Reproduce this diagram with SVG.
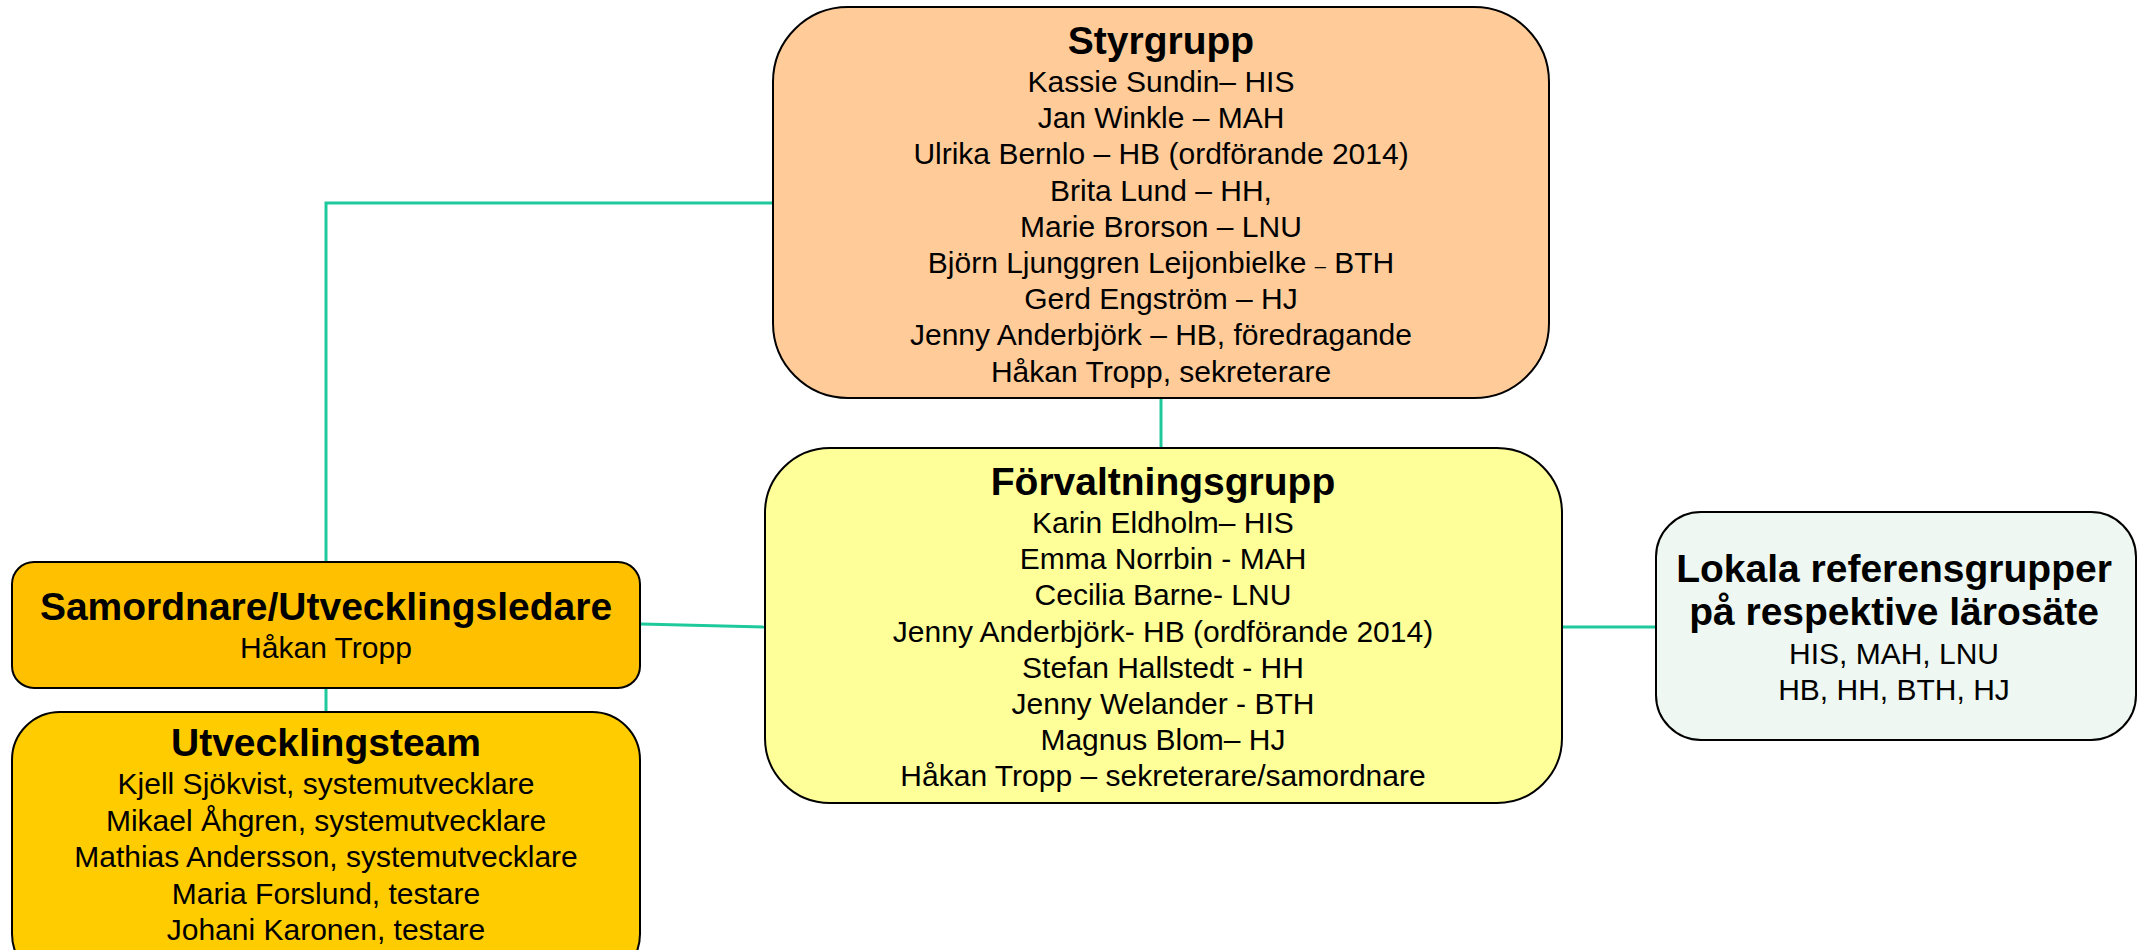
<svg xmlns="http://www.w3.org/2000/svg" width="2137" height="950" viewBox="0 0 2137 950">
<style>
.box{stroke:#000;stroke-width:2}
.t{font-family:"Liberation Sans",Arial,sans-serif;font-weight:bold;font-size:39px;fill:#000;text-anchor:middle}
.b{font-family:"Liberation Sans",Arial,sans-serif;font-size:30px;fill:#000;text-anchor:middle}
.c{fill:none;stroke:#1ec99b;stroke-width:3}
</style>
<rect width="2137" height="950" fill="#fff"/>
<g id="connectors">
<polyline class="c" points="773,203 326,203 326,561"/>
<line class="c" x1="641" y1="624" x2="765" y2="627"/>
<line class="c" x1="1161" y1="398" x2="1161" y2="448"/>
<line class="c" x1="326" y1="688" x2="326" y2="712"/>
<line class="c" x1="1562" y1="627" x2="1656" y2="627"/>
</g>
<g id="styrgrupp">
<rect class="box" x="773" y="7" width="776" height="391" rx="75" ry="75" fill="#ffcc99"/>
<text class="t" x="1161" y="54">Styrgrupp</text>
<text class="b" x="1161" y="92">Kassie Sundin– HIS</text>
<text class="b" x="1161" y="128.2">Jan Winkle – MAH</text>
<text class="b" x="1161" y="164.4">Ulrika Bernlo – HB (ordförande 2014)</text>
<text class="b" x="1161" y="200.6">Brita Lund – HH,</text>
<text class="b" x="1161" y="236.8">Marie Brorson – LNU</text>
<text class="b" x="1161" y="273">Björn Ljunggren Leijonbielke <tspan font-size="20">–</tspan> BTH</text>
<text class="b" x="1161" y="309.2">Gerd Engström – HJ</text>
<text class="b" x="1161" y="345.4">Jenny Anderbjörk – HB, föredragande</text>
<text class="b" x="1161" y="381.6">Håkan Tropp, sekreterare</text>
</g>
<g id="forvaltningsgrupp">
<rect class="box" x="765" y="448" width="797" height="355" rx="65" ry="65" fill="#ffff99"/>
<text class="t" x="1163" y="495">Förvaltningsgrupp</text>
<text class="b" x="1163" y="533">Karin Eldholm– HIS</text>
<text class="b" x="1163" y="569.2">Emma Norrbin - MAH</text>
<text class="b" x="1163" y="605.4">Cecilia Barne- LNU</text>
<text class="b" x="1163" y="641.6">Jenny Anderbjörk- HB (ordförande 2014)</text>
<text class="b" x="1163" y="677.8">Stefan Hallstedt - HH</text>
<text class="b" x="1163" y="714">Jenny Welander - BTH</text>
<text class="b" x="1163" y="750.2">Magnus Blom– HJ</text>
<text class="b" x="1163" y="786.4">Håkan Tropp – sekreterare/samordnare</text>
</g>
<g id="samordnare">
<rect class="box" x="12" y="562" width="628" height="126" rx="22" ry="22" fill="#ffc000"/>
<text class="t" x="326" y="620">Samordnare/Utvecklingsledare</text>
<text class="b" x="326" y="658">Håkan Tropp</text>
</g>
<g id="utvecklingsteam">
<rect class="box" x="12" y="712" width="628" height="270" rx="48" ry="48" fill="#ffcc00"/>
<text class="t" x="326" y="756">Utvecklingsteam</text>
<text class="b" x="326" y="794">Kjell Sjökvist, systemutvecklare</text>
<text class="b" x="326" y="830.5">Mikael Åhgren, systemutvecklare</text>
<text class="b" x="326" y="867">Mathias Andersson, systemutvecklare</text>
<text class="b" x="326" y="903.5">Maria Forslund, testare</text>
<text class="b" x="326" y="940">Johani Karonen, testare</text>
</g>
<g id="lokala">
<rect class="box" x="1656" y="512" width="480" height="228" rx="45" ry="45" fill="#eef7f1"/>
<text class="t" x="1894" y="582">Lokala referensgrupper</text>
<text class="t" x="1894" y="625">på respektive lärosäte</text>
<text class="b" x="1894" y="664">HIS, MAH, LNU</text>
<text class="b" x="1894" y="700">HB, HH, BTH, HJ</text>
</g>
</svg>
